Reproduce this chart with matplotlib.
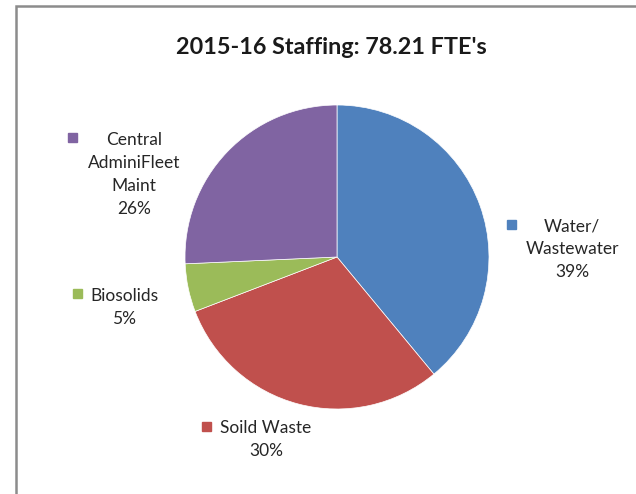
import matplotlib
matplotlib.use("Agg")
import matplotlib.pyplot as plt
from matplotlib.patches import Rectangle

# FTE per division (total 78.21)
categories = ["Water/\nWastewater", "Soild Waste", "Biosolids", "Central\nAdminiFleet\nMaint"]
fte = [30.5, 23.6, 4.0, 20.11]
colors = ["#4F81BD", "#C0504D", "#9BBB59", "#8064A2"]
title = "2015-16 Staffing: 78.21 FTE's"

plt.rcParams["font.family"] = ["Lato", "DejaVu Sans"]

W, H = 636, 494
fig = plt.figure(figsize=(W / 100, H / 100), dpi=100)

# chart frame
fig.add_artist(Rectangle((16 / W, -0.05), 1.1, 1 - 6 / H + 0.05, transform=fig.transFigure,
                         fill=False, edgecolor="#8c8c8c", linewidth=1.8))

# pie: centre (337, 257) px, radius 152 px
cx, cy, r = 337, 257, 152
ax = fig.add_axes([(cx - r) / W, (H - cy - r) / H, 2 * r / W, 2 * r / H])
wedges, _ = ax.pie(fte, colors=colors, startangle=90, counterclock=False,
                   wedgeprops=dict(linewidth=0.5, edgecolor="white"))
ax.set_xlim(-1, 1)
ax.set_ylim(-1, 1)
ax.set_aspect("equal")
ax.axis("off")

fig.text(0.5 * (176 + 486) / W, 1 - 48 / H, title, ha="center", va="center",
         fontsize=16.8, fontweight="bold", color="#1a1a1a")

# label positions (pixel): marker x, first line y, text centre x
label_pos = [(511, 224, 572), (206, 426, 266), (77, 294, 124), (72, 138, 134)]
total = sum(fte)
for cat, v, col, (mx, my, tx) in zip(categories, fte, colors, label_pos):
    pct = round(100 * v / total)
    txt = f"{cat}\n{pct}%"
    fig.text(tx / W, 1 - (my - 6) / H, txt, ha="center", va="top", fontsize=12.5,
             color="#262626", linespacing=1.55)
    fig.add_artist(Rectangle(((mx - 4.5) / W, 1 - (my + 4.5) / H), 9 / W, 9 / H,
                             transform=fig.transFigure, color=col))

fig.savefig("out.png", dpi=100)
